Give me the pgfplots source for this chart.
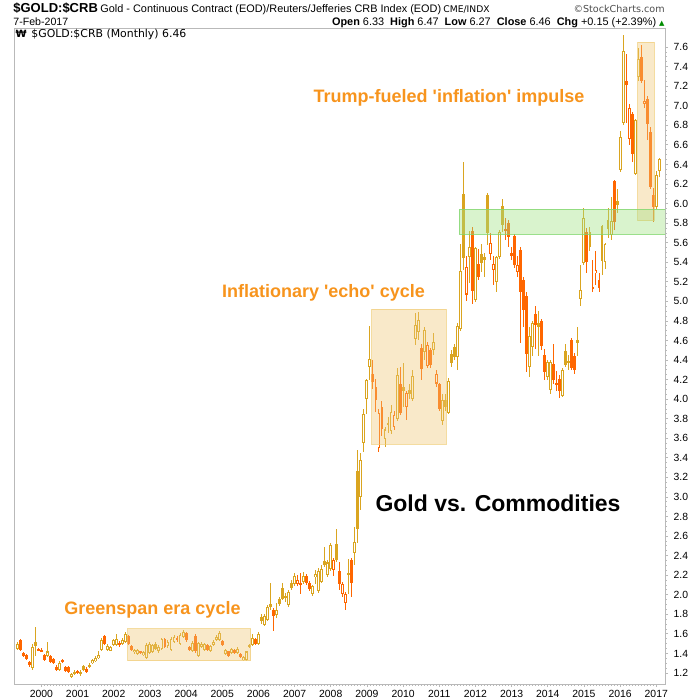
\documentclass[border=0pt]{standalone}
\usepackage{pgfplots}
\pgfplotsset{compat=1.18}
\usepackage{pgfplotstable}
\usepackage{fontspec}
\setmainfont{Liberation Sans}
\newfontfamily\dejavu{DejaVu Sans}
\definecolor{cgold}{RGB}{218,165,32}
\definecolor{corange}{RGB}{255,102,0}
\definecolor{boxfill}{RGB}{240,200,120}
\definecolor{boxdraw}{RGB}{240,205,120}
\definecolor{grfill}{RGB}{160,225,130}
\definecolor{grdraw}{RGB}{130,215,110}
\definecolor{anno}{RGB}{247,148,29}
\definecolor{axgray}{RGB}{185,185,185}
\definecolor{upgreen}{RGB}{0,140,0}

% m = months since Jan 2000; t: 0 hollow gold, 1 filled gold, 2 filled orange, 3 hollow orange
\pgfplotstableread{
m o h l c t
-8 1.45 1.52 1.44 1.50 0
-7 1.54 1.55 1.43 1.44 2
-6 1.40 1.41 1.36 1.37 2
-5 1.38 1.39 1.33 1.34 2
-4 1.31 1.32 1.26 1.28 2
-3 1.25 1.50 1.23 1.47 0
-2 1.52 1.67 1.37 1.48 1
-1 1.45 1.46 1.42 1.43 2
0 1.44 1.46 1.41 1.42 2
1 1.38 1.39 1.32 1.33 2
2 1.37 1.52 1.36 1.42 0
3 1.37 1.38 1.30 1.31 2
4 1.34 1.35 1.29 1.30 2
5 1.26 1.28 1.22 1.23 2
6 1.23 1.32 1.22 1.30 0
7 1.33 1.34 1.30 1.31 2
8 1.26 1.27 1.21 1.22 2
9 1.26 1.27 1.20 1.21 2
10 1.16 1.20 1.15 1.19 0
11 1.19 1.23 1.18 1.21 0
12 1.22 1.23 1.19 1.20 2
13 1.19 1.23 1.17 1.21 0
14 1.27 1.28 1.22 1.23 1
15 1.24 1.26 1.20 1.21 2
16 1.26 1.30 1.25 1.28 0
17 1.30 1.34 1.29 1.33 0
18 1.32 1.37 1.31 1.35 0
19 1.35 1.42 1.34 1.38 0
20 1.44 1.56 1.42 1.54 0
21 1.58 1.59 1.49 1.50 2
22 1.44 1.50 1.43 1.48 0
23 1.43 1.48 1.42 1.47 0
24 1.49 1.55 1.48 1.54 0
25 1.49 1.60 1.48 1.55 0
26 1.51 1.53 1.47 1.49 2
27 1.50 1.56 1.49 1.54 0
28 1.52 1.62 1.51 1.60 0
29 1.58 1.59 1.49 1.50 2
30 1.48 1.49 1.42 1.44 2
31 1.41 1.45 1.39 1.44 0
32 1.39 1.45 1.38 1.44 0
33 1.42 1.43 1.39 1.40 2
34 1.38 1.42 1.37 1.41 0
35 1.35 1.51 1.34 1.49 0
36 1.40 1.52 1.39 1.50 0
37 1.41 1.50 1.40 1.49 0
38 1.50 1.52 1.44 1.45 1
39 1.42 1.49 1.40 1.47 0
40 1.45 1.56 1.44 1.55 0
41 1.55 1.56 1.46 1.47 2
42 1.48 1.54 1.46 1.52 0
43 1.44 1.57 1.43 1.55 0
44 1.52 1.59 1.51 1.57 0
45 1.56 1.58 1.52 1.54 2
46 1.50 1.61 1.49 1.59 0
47 1.57 1.64 1.56 1.62 0
48 1.61 1.62 1.52 1.54 2
49 1.47 1.48 1.42 1.44 2
50 1.42 1.53 1.41 1.51 0
51 1.58 1.60 1.40 1.42 2
52 1.37 1.52 1.36 1.51 0
53 1.47 1.52 1.46 1.50 0
54 1.44 1.51 1.43 1.50 0
55 1.49 1.50 1.43 1.44 2
56 1.42 1.49 1.41 1.48 0
57 1.49 1.54 1.48 1.52 0
58 1.54 1.59 1.53 1.57 0
59 1.54 1.63 1.53 1.61 0
60 1.53 1.54 1.48 1.49 2
61 1.39 1.45 1.38 1.44 0
62 1.42 1.43 1.36 1.37 2
63 1.40 1.46 1.39 1.45 0
64 1.44 1.45 1.39 1.40 2
65 1.40 1.47 1.39 1.45 0
66 1.39 1.40 1.35 1.36 2
67 1.33 1.37 1.32 1.36 0
68 1.33 1.43 1.32 1.42 0
69 1.47 1.50 1.46 1.49 0
70 1.49 1.60 1.48 1.56 0
71 1.55 1.56 1.49 1.50 2
72 1.50 1.62 1.49 1.60 0
73 1.77 1.80 1.70 1.73 1
74 1.69 1.80 1.68 1.78 0
75 1.74 1.90 1.73 1.88 0
76 1.91 2.12 1.84 1.88 1
77 1.84 1.86 1.63 1.78 2
78 1.79 1.92 1.76 1.84 0
79 1.96 1.98 1.89 1.91 1
80 2.07 2.12 1.95 1.96 1
81 1.99 2.02 1.93 1.97 1
82 1.90 2.05 1.87 2.03 0
83 2.12 2.15 2.05 2.07 1
84 2.11 2.22 2.09 2.19 0
85 2.11 2.20 2.09 2.15 3
86 2.12 2.22 2.01 2.10 2
87 2.13 2.23 2.11 2.19 0
88 2.19 2.21 2.10 2.12 2
89 2.12 2.14 2.04 2.06 2
90 2.01 2.10 1.99 2.09 0
91 2.18 2.25 2.11 2.21 0
92 2.04 2.27 2.02 2.24 0
93 2.13 2.30 2.12 2.26 0
94 2.35 2.49 2.28 2.30 1
95 2.20 2.36 2.18 2.33 0
96 2.26 2.53 2.24 2.51 0
97 2.25 2.38 2.19 2.36 3
98 2.52 2.67 2.33 2.36 1
99 2.24 2.33 2.05 2.11 2
100 2.01 2.13 1.98 2.11 3
101 1.92 2.03 1.84 2.01 3
102 2.22 2.37 2.01 2.21 1
103 2.36 2.38 1.98 2.12 2
104 2.43 2.69 2.30 2.54 0
105 3.27 3.48 2.53 2.67 1
106 3.00 3.45 2.87 3.38 0
107 3.55 3.90 3.46 3.85 0
108 4.00 4.21 3.85 4.20 0
109 4.33 4.75 4.20 4.41 0
110 4.26 4.40 4.10 4.18 2
111 4.12 4.21 3.87 3.99 2
112 3.50 3.90 3.46 3.86 3
113 3.92 3.98 3.62 3.70 2
114 3.59 3.72 3.51 3.69 0
115 3.75 3.82 3.65 3.74 1
116 3.67 3.94 3.64 3.87 0
117 3.72 3.88 3.68 3.84 3
118 3.80 4.32 3.78 4.25 0
119 4.15 4.33 3.84 3.86 2
120 4.12 4.37 3.92 4.08 1
121 3.92 4.08 3.79 4.06 3
122 4.09 4.15 4.00 4.05 1
123 4.00 4.30 3.98 4.24 0
124 4.62 4.88 4.55 4.76 0
125 4.69 4.89 4.60 4.81 0
126 4.52 4.56 4.20 4.31 2
127 4.48 4.74 4.40 4.71 0
128 4.34 4.58 4.32 4.55 3
129 4.50 4.52 4.32 4.35 2
130 4.50 4.68 4.45 4.58 0
131 4.16 4.30 4.12 4.26 3
132 4.15 4.17 3.88 3.90 2
133 3.78 4.05 3.74 3.99 0
134 3.99 4.05 3.88 3.92 1
135 3.86 4.22 3.85 4.19 0
136 4.46 4.50 4.33 4.37 1
137 4.53 4.56 4.40 4.43 1
138 4.43 4.78 4.30 4.75 0
139 4.72 5.59 4.70 5.31 0
140 6.10 6.43 5.32 5.44 1
141 5.07 5.46 5.00 5.35 3
142 5.45 5.72 5.19 5.56 0
143 5.72 5.76 4.97 5.11 2
144 5.01 5.56 4.99 5.55 0
145 5.38 5.54 5.22 5.25 2
146 5.48 5.59 5.30 5.39 1
147 5.45 5.49 5.25 5.42 1
148 6.09 6.11 5.58 5.70 1
149 5.48 5.70 5.42 5.60 3
150 5.32 5.46 5.17 5.38 3
151 5.20 5.46 5.10 5.45 0
152 5.45 5.73 5.43 5.71 0
153 5.98 6.05 5.71 5.78 1
154 5.74 5.85 5.63 5.72 2
155 5.80 5.83 5.56 5.66 2
156 5.49 5.56 5.42 5.46 2
157 5.67 5.69 5.34 5.37 2
158 5.30 5.46 5.25 5.37 3
159 5.53 5.56 4.57 5.10 2
160 5.22 5.25 4.74 4.91 2
161 5.05 5.10 4.28 4.46 2
162 4.33 4.74 4.23 4.65 0
163 4.53 4.80 4.44 4.78 0
164 4.87 4.95 4.51 4.76 2
165 4.78 4.90 4.44 4.74 1
166 4.80 4.82 4.50 4.54 2
167 4.45 4.51 4.20 4.28 2
168 4.23 4.40 4.20 4.38 0
169 4.09 4.40 4.05 4.38 0
170 4.36 4.56 4.16 4.20 2
171 4.15 4.29 4.08 4.17 3
172 4.21 4.25 4.01 4.08 2
173 4.03 4.32 4.02 4.30 0
174 4.49 4.56 4.33 4.35 1
175 4.39 4.45 4.30 4.38 1
176 4.61 4.63 4.30 4.32 2
177 4.44 4.47 4.26 4.30 2
178 4.60 4.74 4.44 4.57 1
179 5.02 5.37 4.95 5.12 0
180 5.39 5.95 5.37 5.85 0
181 5.71 5.75 5.29 5.40 2
182 5.71 5.76 5.52 5.56 1
183 5.15 5.42 5.10 5.13 2
184 5.29 5.51 5.17 5.32 3
185 5.22 5.29 5.10 5.14 2
186 5.77 5.78 5.27 5.41 1
187 5.40 5.60 5.33 5.59 0
188 5.83 5.95 5.65 5.74 1
189 5.68 6.07 5.63 5.82 0
190 6.23 6.24 5.73 5.81 2
191 6.03 6.15 5.90 5.99 1
192 6.34 6.74 6.32 6.68 0
193 6.82 7.72 6.80 7.56 0
194 7.25 7.53 6.82 7.21 2
195 6.66 7.02 6.60 6.98 3
196 6.92 6.94 6.43 6.51 2
197 6.30 6.86 6.29 6.85 0
198 7.29 7.59 7.25 7.48 0
199 7.50 7.62 7.23 7.25 2
200 7.02 7.26 6.98 7.05 3
201 7.07 7.10 6.65 6.81 2
202 6.73 6.78 6.15 6.17 2
203 6.09 6.16 5.81 5.96 2
204 5.96 6.33 5.94 6.29 0
205 6.33 6.47 6.27 6.46 0
}\candles

\pgfplotsset{
  wick/.style={draw=none, mark=none, forget plot,
    error bars/.cd, y dir=both, y explicit, error mark=none,
    error bar style={draw=#1, line width=0.5pt}},
  body/.style 2 args={draw=none, mark=none, forget plot,
    error bars/.cd, y dir=both, y explicit, error mark=none,
    error bar style={draw=#1, line width=#2}},
}

\begin{document}
\begin{tikzpicture}[x=1pt,y=1pt]
\path[use as bounding box] (0,0) rectangle (350,-350);
\begin{axis}[
  at={(7pt,-342pt)}, anchor=south west,
  scale only axis, width=325.5pt, height=327.75pt,
  xmin=-9.09, xmax=206.9, ymin=1.0875, ymax=7.79,
  axis line style={draw=axgray, line width=0.5pt},
  xtick={0,12,24,36,48,60,72,84,96,108,120,132,144,156,168,180,192,204},
  xticklabels={2000,2001,2002,2003,2004,2005,2006,2007,2008,2009,2010,2011,2012,2013,2014,2015,2016,2017},
  ytick={1.2,1.4,1.6,1.8,2.0,2.2,2.4,2.6,2.8,3.0,3.2,3.4,3.6,3.8,4.0,4.2,4.4,4.6,4.8,5.0,5.2,5.4,5.6,5.8,6.0,6.2,6.4,6.6,6.8,7.0,7.2,7.4,7.6},
  minor x tick num=11, minor y tick num=3,
  xtick pos=bottom, ytick pos=right, yticklabel pos=right,
  tick align=outside, major tick length=1.6pt, minor tick length=0.9pt,
  tick style={draw=axgray, line width=0.4pt},
  ticklabel style={font=\fontsize{5.2}{6}\selectfont, text=black},
  xticklabel style={yshift=1.8pt},
  yticklabel style={xshift=-0.8pt},
  /pgf/number format/.cd, fixed, fixed zerofill, precision=1, assume math mode=true,
]
% wicks
\addplot[wick=cgold] table[x=m, y expr={(\thisrow{h}+\thisrow{l})/2}, y error expr={(\thisrow{h}-\thisrow{l})/2}, restrict expr to domain={\thisrow{t}}{0:1}] {\candles};
\addplot[wick=corange] table[x=m, y expr={(\thisrow{h}+\thisrow{l})/2}, y error expr={(\thisrow{h}-\thisrow{l})/2}, restrict expr to domain={\thisrow{t}}{2:3}] {\candles};
% bodies
\addplot[body={cgold}{1.45pt}] table[x=m, y expr={(\thisrow{o}+\thisrow{c})/2}, y error expr={max(abs(\thisrow{c}-\thisrow{o})/2,0.008)}, restrict expr to domain={\thisrow{t}}{0:1}] {\candles};
\addplot[body={corange}{1.45pt}] table[x=m, y expr={(\thisrow{o}+\thisrow{c})/2}, y error expr={max(abs(\thisrow{c}-\thisrow{o})/2,0.008)}, restrict expr to domain={\thisrow{t}}{2:3}] {\candles};
% hollow interiors
\addplot[body={white}{0.5pt}] table[x=m, y expr={(\thisrow{o}+\thisrow{c})/2}, y error expr={max(abs(\thisrow{c}-\thisrow{o})/2-0.0105,0)}, restrict expr to domain={abs(\thisrow{t}-1.5)}{1.4:1.6}] {\candles};
% shaded boxes
\addplot[fill=boxfill, fill opacity=0.4, draw=boxdraw, draw opacity=0.7, line width=0.5pt, forget plot] coordinates {(28.6,1.323) (69.4,1.323) (69.4,1.650) (28.6,1.650)} -- cycle;
\addplot[fill=boxfill, fill opacity=0.4, draw=boxdraw, draw opacity=0.7, line width=0.5pt, forget plot] coordinates {(109.6,3.538) (134.3,3.538) (134.3,4.919) (109.6,4.919)} -- cycle;
\addplot[fill=boxfill, fill opacity=0.4, draw=boxdraw, draw opacity=0.7, line width=0.5pt, forget plot] coordinates {(197.9,5.825) (203.4,5.825) (203.4,7.649) (197.9,7.649)} -- cycle;
\addplot[fill=grfill, fill opacity=0.4, draw=grdraw, draw opacity=0.8, line width=0.5pt, forget plot] coordinates {(138.6,5.686) (206.9,5.686) (206.9,5.941) (138.6,5.941)} -- cycle;
\end{axis}
% header
\node[anchor=base west, inner sep=0pt] at (6.5,-6.3) {\fontsize{6.5}{7}\selectfont\bfseries \$GOLD:\$CRB};
\node[anchor=base west, inner sep=0pt] at (50,-6.3) {\fontsize{5.45}{6}\selectfont Gold - Continuous Contract (EOD)/Reuters/Jefferies CRB Index (EOD)};
\node[anchor=base west, inner sep=0pt] at (221.5,-6.3) {\dejavu\fontsize{4.6}{5}\selectfont CME/INDX};
\node[anchor=base east, inner sep=0pt, text=black!70] at (332.5,-6.3) {\dejavu\fontsize{4.8}{5}\selectfont ©StockCharts.com};
\node[anchor=base west, inner sep=0pt] at (6.5,-13) {\fontsize{5.3}{6}\selectfont 7-Feb-2017};
\node[anchor=base east, inner sep=0pt] at (332.5,-13) {\fontsize{5.45}{6}\selectfont \textbf{Open} 6.33\ \ \textbf{High} 6.47\ \ \textbf{Low} 6.27\ \ \textbf{Close} 6.46\ \ \textbf{Chg} +0.15 (+2.39\%) {\dejavu\fontsize{3.5}{4}\selectfont\textcolor{upgreen}{▲}}};
\node[anchor=base west, inner sep=0pt] at (7.6,-18.8) {\dejavu\fontsize{5}{5.5}\selectfont\bfseries ₩};
\node[anchor=base west, inner sep=0pt] at (15.5,-18.8) {\dejavu\fontsize{5.45}{6}\selectfont \$GOLD:\$CRB (Monthly) 6.46};
% annotations
\node[text=anno, font=\fontsize{9}{10}\selectfont\bfseries] at (76.25,-305) {Greenspan era cycle};
\node[text=anno, font=\fontsize{9}{10}\selectfont\bfseries] at (161.75,-146.5) {Inflationary \textquotesingle echo\textquotesingle\ cycle};
\node[text=anno, font=\fontsize{9}{10}\selectfont\bfseries] at (224.5,-49) {Trump-fueled \textquotesingle inflation\textquotesingle\ impulse};
\node[text=black, font=\fontsize{11.5}{13}\selectfont\bfseries] at (249,-251.5) {Gold vs. Commodities};
\end{tikzpicture}
\end{document}
